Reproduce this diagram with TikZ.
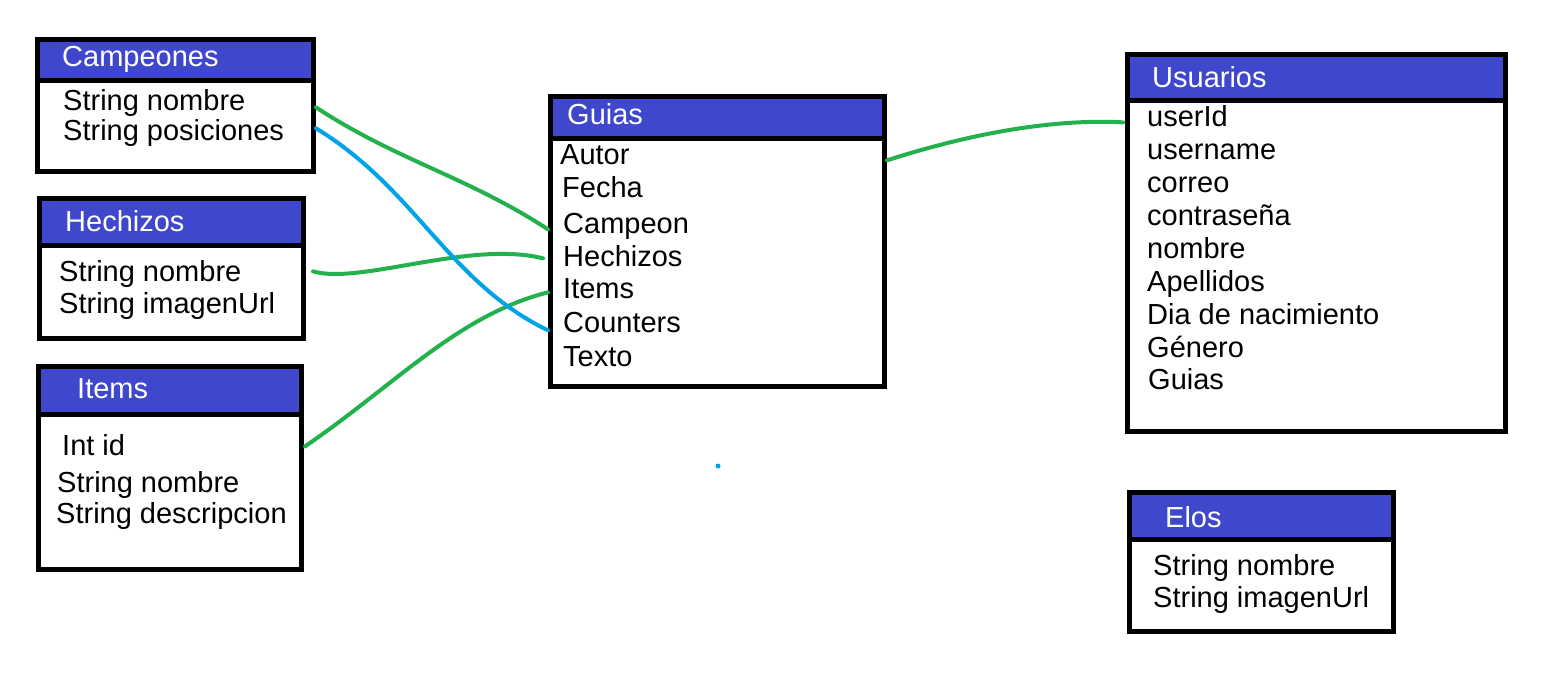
\documentclass[tikz,border=0pt]{standalone}
\usepackage{fontspec}
\setmainfont{Liberation Sans}
\usepackage{tikz}
\usetikzlibrary{calc}
\definecolor{indigo}{HTML}{3F48CC}
\definecolor{verde}{HTML}{22B14C}
\definecolor{azul}{HTML}{00A2E8}
\tikzstyle{every node}=[font=\fontsize{29}{35}\selectfont]
\tikzstyle{tabla}=[draw,fill=white,line width=5pt,anchor=north west,inner sep=0pt]
\tikzstyle{cabecera}=[tabla,fill=indigo]
\tikzstyle{titulo}=[anchor=base west,inner sep=0pt,text=white]
\tikzstyle{campo}=[anchor=base west,inner sep=0pt]
\tikzstyle{enlace}=[draw=verde,line width=4pt,line cap=round]

\begin{document}
\begin{tikzpicture}[x=1pt,y=-1pt]
  \useasboundingbox (0,0) rectangle (1558,684);

  % Campeones
  \node[tabla,minimum width=276pt,minimum height=132pt] (campeones) at (35,37) {};
  \node[cabecera,minimum width=276pt,minimum height=41pt] (campeonesH) at (35,37) {};
  \node[titulo] (tcampeones) at (62,67) {Campeones};
  \node[campo] (cnombre) at (63,111) {String nombre};
  \node[campo] (cposic) at (63,141) {String posiciones};

  % Hechizos
  \node[tabla,minimum width=264pt,minimum height=140pt] (hechizos) at (37,196) {};
  \node[cabecera,minimum width=264pt,minimum height=47pt] (hechizosH) at (37,196) {};
  \node[titulo] (thechizos) at (65,232) {Hechizos};
  \node[campo] (hnombre) at (59,282) {String nombre};
  \node[campo] (himagen) at (59,314) {String imagenUrl};

  % Items
  \node[tabla,minimum width=263pt,minimum height=203pt] (items) at (36,364) {};
  \node[cabecera,minimum width=263pt,minimum height=48pt] (itemsH) at (36,364) {};
  \node[titulo] (titems) at (77,399) {Items};
  \node[campo] (iid) at (62,455) {Int id};
  \node[campo] (inombre) at (57,492) {String nombre};
  \node[campo] (idesc) at (56,523) {String descripcion};

  % Guias
  \node[tabla,minimum width=334pt,minimum height=290pt] (guias) at (548,94) {};
  \node[cabecera,minimum width=334pt,minimum height=42pt] (guiasH) at (548,94) {};
  \node[titulo] (tguias) at (567,125) {Guias};
  \node[campo] (gautor) at (560,165) {Autor};
  \node[campo] (gfecha) at (562,198) {Fecha};
  \node[campo] (gcampeon) at (563,234) {Campeon};
  \node[campo] (ghechizos) at (563,267) {Hechizos};
  \node[campo] (gitems) at (563,299) {Items};
  \node[campo] (gcounters) at (563,333) {Counters};
  \node[campo] (gtexto) at (563,367) {Texto};

  % Usuarios
  \node[tabla,minimum width=378pt,minimum height=377pt] (usuarios) at (1125,52) {};
  \node[cabecera,minimum width=378pt,minimum height=46pt] (usuariosH) at (1125,52) {};
  \node[titulo] (tusuarios) at (1152,88) {Usuarios};
  \node[campo] (uid) at (1147,127) {userId};
  \node[campo] (uname) at (1147,160) {username};
  \node[campo] (ucorreo) at (1147,193) {correo};
  \node[campo] (upass) at (1147,226) {contraseña};
  \node[campo] (unombre) at (1147,259) {nombre};
  \node[campo] (uapell) at (1147,292) {Apellidos};
  \node[campo] (udia) at (1147,325) {Dia de nacimiento};
  \node[campo] (ugenero) at (1147,358) {Género};
  \node[campo] (uguias) at (1148,389) {Guias};

  % Elos
  \node[tabla,minimum width=264pt,minimum height=139pt] (elos) at (1127,490) {};
  \node[cabecera,minimum width=264pt,minimum height=47pt] (elosH) at (1127,490) {};
  \node[titulo] (telos) at (1165,527) {Elos};
  \node[campo] (enombre) at (1153,575) {String nombre};
  \node[campo] (eimagen) at (1153,607) {String imagenUrl};

  % enlaces
  \draw[enlace] ($(campeones.east |- cnombre.mid)+(0,-1)$) .. controls (396,160) and (468,177) .. ($(guias.west |- gcampeon.mid)+(0,-2)$);
  \draw[enlace] ($(hechizos.east |- hnombre.mid)+(7,-8)$) .. controls (360,285) and (470,240) .. ($(guias.west |- ghechizos.mid)+(-5,-6)$);
  \draw[enlace] ($(items.east |- iid.mid)+(1,-6)$) .. controls (395,385) and (458,315) .. ($(guias.west |- gitems.mid)+(0,-4)$);
  \draw[enlace,draw=azul] ($(campeones.east |- cposic.mid)+(0,-10)$) .. controls (416,189) and (448,282) .. (guias.west |- gcounters.mid);
  \draw[enlace] ($(guias.east |- gautor.mid)+(0,-2)$) .. controls (950,140) and (1040,118) .. ($(usuarios.west |- uid.mid)+(-2,-2)$);
  \fill[azul] (718,466) circle (2.5);
\end{tikzpicture}
\end{document}
